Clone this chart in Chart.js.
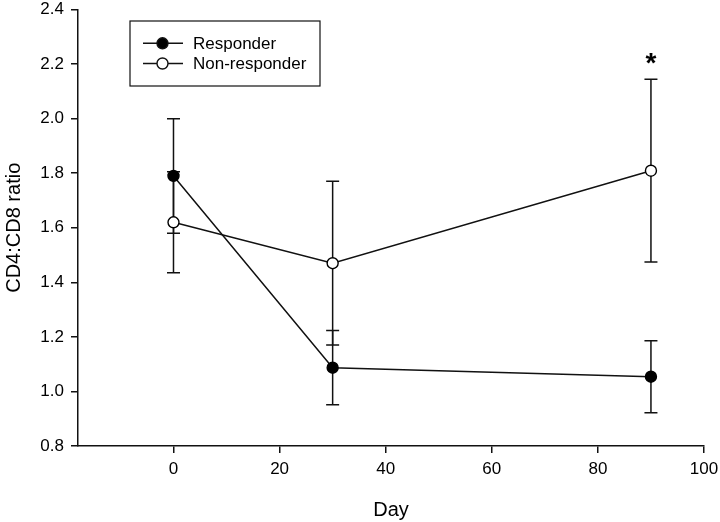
<!DOCTYPE html>
<html><head><meta charset="utf-8">
<script src="https://cdn.jsdelivr.net/npm/chart.js@4/dist/chart.umd.min.js"></script>
<style>html,body{margin:0;padding:0;background:#fff}canvas{display:block}</style>
</head><body>
<canvas id="c" width="720" height="522"></canvas>
<script>
const days = [0, 30, 90];
const responder = [1.79, 1.087, 1.054];
const responderErr = [0.21, 0.136, 0.132];
const nonResponder = [1.62, 1.47, 1.809];
const nonResponderErr = [0.185, 0.30, 0.335];
const seriesLabels = ['Responder', 'Non-responder'];
const xTicks = [0, 20, 40, 60, 80, 100];
const yTicks = [0.8, 1.0, 1.2, 1.4, 1.6, 1.8, 2.0, 2.2, 2.4];
const significantDays = [90];

const FONT = '"Liberation Sans", Arial, sans-serif';

const errorBars = {
  id: 'errorBars',
  beforeDatasetsDraw(chart) {
    const {ctx, scales: {x, y}} = chart;
    ctx.save();
    ctx.strokeStyle = '#111';
    ctx.lineWidth = 1.5;
    chart.data.datasets.forEach(ds => {
      ds.data.forEach((p, i) => {
        const e = ds.errors[i];
        const px = x.getPixelForValue(p.x);
        const t = y.getPixelForValue(p.y + e);
        const b = y.getPixelForValue(p.y - e);
        ctx.beginPath();
        ctx.moveTo(px, t); ctx.lineTo(px, b);
        ctx.moveTo(px - 6.5, t); ctx.lineTo(px + 6.5, t);
        ctx.moveTo(px - 6.5, b); ctx.lineTo(px + 6.5, b);
        ctx.stroke();
      });
    });
    ctx.restore();
  },
  afterDatasetsDraw(chart) {
    const {ctx, scales: {x, y}} = chart;
    const ds = chart.data.datasets[1];
    ctx.save();
    ctx.fillStyle = '#000';
    ctx.font = 'bold 28px ' + FONT;
    ctx.textAlign = 'center';
    ctx.textBaseline = 'alphabetic';
    significantDays.forEach(d => {
      const i = ds.data.findIndex(p => p.x === d);
      const top = y.getPixelForValue(ds.data[i].y + ds.errors[i]);
      ctx.fillText('*', x.getPixelForValue(d), top - 7);
    });
    ctx.restore();
  }
};

const boxLegend = {
  id: 'boxLegend',
  afterDraw(chart) {
    const {ctx} = chart;
    ctx.save();
    ctx.strokeStyle = '#111';
    ctx.lineWidth = 1.2;
    ctx.strokeRect(130, 21, 190, 65);
    const rows = [43.3, 63.5];
    chart.data.datasets.forEach((ds, i) => {
      const yy = rows[i];
      ctx.lineWidth = 1.5;
      ctx.beginPath(); ctx.moveTo(143, yy); ctx.lineTo(183, yy); ctx.stroke();
      ctx.beginPath(); ctx.arc(162.5, yy, 5.5, 0, Math.PI * 2);
      ctx.fillStyle = ds.pointBackgroundColor; ctx.fill();
      ctx.lineWidth = 1.4; ctx.stroke();
      ctx.fillStyle = '#000';
      ctx.font = '17px ' + FONT;
      ctx.textBaseline = 'middle';
      ctx.textAlign = 'left';
      ctx.fillText(ds.label, 193, yy + 1);
    });
    ctx.restore();
  }
};

const mk = (vals) => days.map((d, i) => ({x: d, y: vals[i]}));

new Chart(document.getElementById('c'), {
  type: 'scatter',
  data: {
    datasets: [
      {label: seriesLabels[0], data: mk(responder), errors: responderErr, showLine: true,
       borderColor: '#111', borderWidth: 1.5, pointRadius: 5.5, pointBorderWidth: 1.4,
       pointBackgroundColor: '#000', pointBorderColor: '#000', order: 1},
      {label: seriesLabels[1], data: mk(nonResponder), errors: nonResponderErr, showLine: true,
       borderColor: '#111', borderWidth: 1.5, pointRadius: 5.5, pointBorderWidth: 1.4,
       pointBackgroundColor: '#fff', pointBorderColor: '#000', order: 0}
    ]
  },
  options: {
    responsive: false,
    animation: false,
    devicePixelRatio: 1,
    layout: {padding: {left: 0, right: 16, top: 9.5, bottom: 0}},
    plugins: {legend: {display: false}, tooltip: {enabled: false}},
    scales: {
      x: {
        type: 'linear', min: -18, max: 100,
        afterBuildTicks: s => { s.ticks = xTicks.map(v => ({value: v})); },
        afterFit: s => { s.height = 76; s.paddingLeft = 0; s.paddingRight = 0; },
        grid: {drawOnChartArea: false, color: '#111', lineWidth: 1.5, tickLength: 7},
        border: {display: true, color: '#111', width: 1.5},
        ticks: {color: '#000', font: {family: FONT, size: 17}, padding: 6, callback: v => String(v)},
        title: {display: true, text: 'Day', color: '#000', font: {family: FONT, size: 20}, padding: {top: 4, bottom: 0}}
      },
      y: {
        type: 'linear', min: 0.8, max: 2.4,
        afterBuildTicks: s => { s.ticks = yTicks.map(v => ({value: v})); },
        afterFit: s => { s.width = 78; s.paddingTop = 0; s.paddingBottom = 0; },
        grid: {drawOnChartArea: false, color: '#111', lineWidth: 1.5, tickLength: 7},
        border: {display: true, color: '#111', width: 1.5},
        ticks: {color: '#000', font: {family: FONT, size: 17}, padding: 7, callback: v => Number(v).toFixed(1)},
        title: {display: true, text: 'CD4:CD8 ratio', color: '#000', font: {family: FONT, size: 20}, padding: {top: 2, bottom: 4}}
      }
    }
  },
  plugins: [errorBars, boxLegend]
});
</script>
</body></html>
